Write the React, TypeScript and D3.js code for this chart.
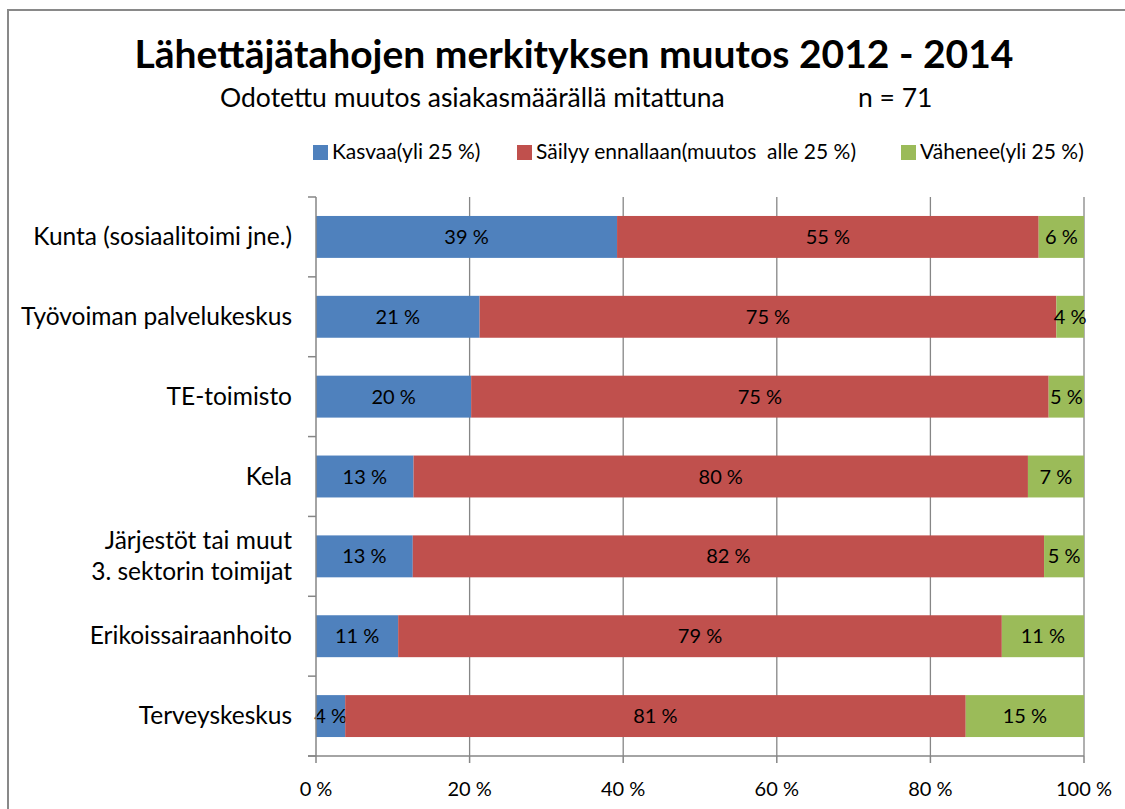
import React, { useEffect, useRef } from 'react';
import * as d3 from 'd3';

const categories: string[] = [
    'Kunta (sosiaalitoimi jne.)',
    'Työvoiman palvelukeskus',
    'TE-toimisto',
    'Kela',
    'Järjestöt tai muut|3. sektorin toimijat',
    'Erikoissairaanhoito',
    'Terveyskeskus',
];

const seriesNames: string[] = [
    'Kasvaa(yli 25 %)',
    'Säilyy ennallaan(muutos  alle 25 %)',
    'Vähenee(yli 25 %)',
];

const kasvaa: number[] = [39.2, 21.3, 20.2, 12.7, 12.6, 10.7, 3.8];
const sailyy: number[] = [54.9, 75.1, 75.2, 80.0, 82.2, 78.6, 80.8];
const vahenee: number[] = [5.9, 3.6, 4.6, 7.3, 5.2, 10.7, 15.4];

const xTicks: number[] = [0, 20, 40, 60, 80, 100];

const colors: string[] = ['#4F81BD', '#C0504D', '#9BBB59'];

const FONT = 'Lato, "Open Sans", sans-serif';

export default function App() {
    const svgRef = useRef<SVGSVGElement>(null);

    useEffect(() => {
        const svg = d3.select(svgRef.current);
        svg.selectAll('*').remove();

        const width = 1125;
        const height = 809;
        const plot = { left: 316, right: 1084, top: 197, bottom: 756 };

        svg.attr('width', width).attr('height', height);

        // chart frame
        svg.append('path')
            .attr('d', `M8,${height + 10}V10H${width + 10}`)
            .attr('fill', 'none')
            .attr('stroke', '#898989')
            .attr('stroke-width', 2);

        const rows = categories.map((c, i) => ({
            name: c,
            values: [kasvaa[i], sailyy[i], vahenee[i]],
        }));

        const xScale = d3.scaleLinear().domain([0, 100]).range([plot.left, plot.right]);
        const yScale = d3.scaleBand<string>()
            .domain(categories)
            .range([plot.top, plot.bottom])
            .paddingInner(0.475)
            .paddingOuter(0.2375);

        // gridlines
        svg.append('g')
            .selectAll('line')
            .data(xTicks.filter((t) => t > 0))
            .join('line')
            .attr('x1', (d) => xScale(d))
            .attr('x2', (d) => xScale(d))
            .attr('y1', plot.top)
            .attr('y2', plot.bottom)
            .attr('stroke', '#868686')
            .attr('stroke-width', 1.3);

        // bars
        const stack = d3.stack<{ name: string; values: number[] }, number>()
            .keys([0, 1, 2])
            .value((d, k) => d.values[k]);
        const stacked = stack(rows);

        const layers = svg.append('g')
            .selectAll('g')
            .data(stacked)
            .join('g')
            .attr('fill', (_d, i) => colors[i]);

        layers.selectAll('rect')
            .data((d) => d)
            .join('rect')
            .attr('x', (d) => xScale(d[0]))
            .attr('width', (d) => xScale(d[1]) - xScale(d[0]))
            .attr('y', (d) => yScale(d.data.name) as number)
            .attr('height', yScale.bandwidth());

        // segment labels
        layers.selectAll('text')
            .data((d) => d)
            .join('text')
            .attr('x', (d) => (xScale(d[0]) + xScale(d[1])) / 2)
            .attr('y', (d) => (yScale(d.data.name) as number) + yScale.bandwidth() / 2 + 7)
            .attr('text-anchor', 'middle')
            .attr('fill', '#000')
            .style('font-family', FONT)
            .style('font-size', '20px')
            .text((d) => `${Math.round(d[1] - d[0])} %`);

        // y axis
        const step = yScale.step();
        const bounds = d3.range(categories.length + 1).map((i) => plot.top + i * step);
        svg.append('line')
            .attr('x1', plot.left).attr('x2', plot.left)
            .attr('y1', plot.top).attr('y2', plot.bottom)
            .attr('stroke', '#868686').attr('stroke-width', 1.5);
        svg.append('g')
            .selectAll('line')
            .data(bounds)
            .join('line')
            .attr('x1', plot.left - 8).attr('x2', plot.left)
            .attr('y1', (d) => d).attr('y2', (d) => d)
            .attr('stroke', '#868686').attr('stroke-width', 1.5);

        // category labels
        const catLabels = svg.append('g')
            .selectAll('text')
            .data(categories)
            .join('text')
            .attr('text-anchor', 'end')
            .style('font-family', FONT)
            .style('font-size', '24.5px')
            .attr('fill', '#000');
        catLabels.each(function (d) {
            const lines = d.split('|');
            const cy = (yScale(d) as number) + yScale.bandwidth() / 2 + 8;
            const t = d3.select(this);
            lines.forEach((ln, j) => {
                t.append('tspan')
                    .attr('x', 292)
                    .attr('y', cy + (j - (lines.length - 1) / 2) * 31)
                    .text(ln);
            });
        });

        // x axis
        svg.append('line')
            .attr('x1', plot.left - 8).attr('x2', plot.right)
            .attr('y1', plot.bottom).attr('y2', plot.bottom)
            .attr('stroke', '#868686').attr('stroke-width', 1.5);
        svg.append('g')
            .selectAll('line')
            .data(xTicks)
            .join('line')
            .attr('x1', (d) => xScale(d)).attr('x2', (d) => xScale(d))
            .attr('y1', plot.bottom).attr('y2', plot.bottom + 7)
            .attr('stroke', '#868686').attr('stroke-width', 1.5);
        svg.append('g')
            .selectAll('text')
            .data(xTicks)
            .join('text')
            .attr('x', (d) => xScale(d))
            .attr('y', 796)
            .attr('text-anchor', 'middle')
            .style('font-family', FONT)
            .style('font-size', '20px')
            .text((d) => `${d} %`);

        // legend
        const legendX = [313, 517, 901];
        const legend = svg.append('g')
            .selectAll('g')
            .data(seriesNames)
            .join('g')
            .attr('transform', (_d, i) => `translate(${legendX[i]},145)`);
        legend.append('rect')
            .attr('width', 15).attr('height', 15)
            .attr('fill', (_d, i) => colors[i]);
        legend.append('text')
            .attr('x', 19)
            .attr('y', 14)
            .style('font-family', FONT)
            .style('font-size', '21px')
            .style('white-space', 'pre')
            .text((d) => d);

        // title
        svg.append('text')
            .attr('x', 574)
            .attr('y', 68)
            .attr('text-anchor', 'middle')
            .style('font-family', FONT)
            .style('font-weight', 'bold')
            .style('font-size', '39px')
            .text('Lähettäjätahojen merkityksen muutos 2012 - 2014');

        svg.append('text')
            .attr('x', 220)
            .attr('y', 107)
            .style('font-family', FONT)
            .style('font-size', '26.5px')
            .text('Odotettu muutos asiakasmäärällä mitattuna');
        svg.append('text')
            .attr('x', 858)
            .attr('y', 107)
            .style('font-family', FONT)
            .style('font-size', '26.5px')
            .text('n = 71');
    }, []);

    return (
        <svg ref={svgRef} style={{ position: 'absolute', left: 0, top: 0, background: '#fff' }} />
    );
}
